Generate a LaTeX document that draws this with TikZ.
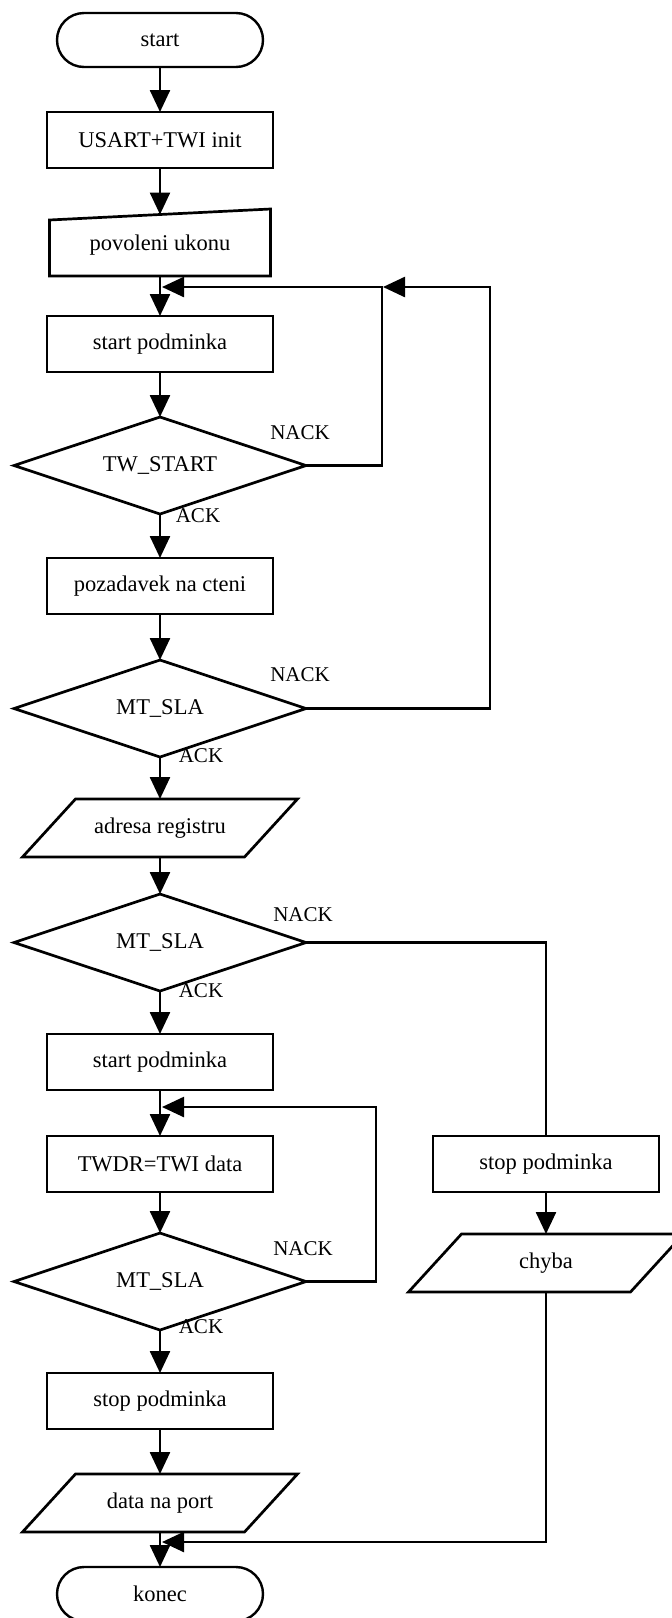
\documentclass[tikz,border=0pt]{standalone}
\usepackage{fontspec}
\setmainfont{Liberation Serif}
\usepackage{tikz}
\usetikzlibrary{arrows.meta, positioning, shapes}

\begin{document}
\begin{tikzpicture}[x=1pt, y=-1pt, >={Triangle[length=22pt,width=20pt]},
  every node/.style={font=\fontsize{22.5}{27}\selectfont, outer sep=0pt},
  box/.style={draw, line width=2.7pt, minimum width=226pt, minimum height=56pt},
  term/.style={draw, line width=2.4pt, rounded corners=27pt, minimum width=206pt, minimum height=54pt},
  dec/.style={draw, diamond, aspect=3, inner sep=0pt, line width=2.7pt, minimum width=292pt, minimum height=97pt},
  io/.style={minimum width=222pt, minimum height=58pt},
  shp/.style={line width=2.7pt, line join=miter},
  arr/.style={->, line width=2.5pt},
  lbl/.style={inner sep=0pt, font=\fontsize{21}{25}\selectfont}]
\useasboundingbox (0,0) rectangle (672,1618);

\node[term] (start) at (160,40) {start};
\node[box, below=45pt of start] (init) {USART+TWI init};
\node[io, minimum width=221pt, minimum height=61.5pt, below=46.5pt of init] (povol) {povoleni ukonu};
\node[box, below=40pt of povol] (spod1) {start podminka};
\node[dec, below=45pt of spod1] (twst) {TW\_START};
\node[box, below=44pt of twst] (pozad) {pozadavek na cteni};
\node[dec, below=46pt of pozad] (mtsla1) {MT\_SLA};
\node[io, below=42pt of mtsla1] (adr) {adresa registru};
\node[dec, below=37pt of adr] (mtsla2) {MT\_SLA};
\node[box, below=43pt of mtsla2] (spod2) {start podminka};
\node[box, below=46pt of spod2] (twdr) {TWDR=TWI data};
\node[dec, below=41pt of twdr] (mtsla3) {MT\_SLA};
\node[box, below=43pt of mtsla3] (spod3) {stop podminka};
\node[io, below=45pt of spod3] (dat) {data na port};
\node[term, below=35pt of dat] (konec) {konec};
\node[box, right=160pt of twdr] (spodr) {stop podminka};
\node[io, below=42pt of spodr] (chyba) {chyba};

% outlines of the input shapes
\draw[shp] (povol.south west) -- ([yshift=-5.5pt]povol.north west) -- ([yshift=5.5pt]povol.north east) -- (povol.south east) -- cycle;
\draw[shp] ([xshift=-26.5pt]adr.south west) -- ([xshift=26.5pt]adr.north west) -- ([xshift=26.5pt]adr.north east) -- ([xshift=-26.5pt]adr.south east) -- cycle;
\draw[shp] ([xshift=-26.5pt]dat.south west) -- ([xshift=26.5pt]dat.north west) -- ([xshift=26.5pt]dat.north east) -- ([xshift=-26.5pt]dat.south east) -- cycle;
\draw[shp] ([xshift=-26.5pt]chyba.south west) -- ([xshift=26.5pt]chyba.north west) -- ([xshift=26.5pt]chyba.north east) -- ([xshift=-26.5pt]chyba.south east) -- cycle;

\draw[arr] (start) -- (init);
\draw[arr] (init) -- (povol);
\draw[arr] (povol) -- (spod1);
\draw[arr] (spod1) -- (twst);
\draw[arr] (twst) -- (pozad);
\draw[arr] (pozad) -- (mtsla1);
\draw[arr] (mtsla1) -- (adr);
\draw[arr] (adr) -- (mtsla2);
\draw[arr] (mtsla2) -- (spod2);
\draw[arr] (spod2) -- (twdr);
\draw[arr] (twdr) -- (mtsla3);
\draw[arr] (mtsla3) -- (spod3);
\draw[arr] (spod3) -- (dat);
\draw[arr] (dat) -- (konec);
\draw[arr] (spodr) -- (chyba);

% loops back
\coordinate[below=11pt of povol] (m1);
\coordinate[below=17pt of spod2] (m2);
\coordinate[below=10pt of dat] (m3);
\draw[arr] (twst.east) -- ++(76,0) coordinate (k1) |- ([xshift=2pt]m1);
\coordinate (k1t) at (k1 |- m1);
\draw[arr] (mtsla1.east) -- ++(184,0) |- ([xshift=1pt]k1t);
\draw[line width=2.5pt] (mtsla2.east) -| (spodr.north);
\draw[arr] (mtsla3.east) -- ++(70,0) |- ([xshift=2pt]m2);
\draw[arr] (chyba.south) |- ([xshift=2pt]m3);

\node[lbl] (nack1) at ([xshift=-6pt,yshift=33pt]twst.east) {NACK};
\node[lbl] (ack1) at ([xshift=38pt,yshift=-2pt]twst.south) {ACK};
\node[lbl] (nack2) at ([xshift=-6pt,yshift=34pt]mtsla1.east) {NACK};
\node[lbl] (ack2) at ([xshift=41pt,yshift=1pt]mtsla1.south) {ACK};
\node[lbl] (nack3) at ([xshift=-3pt,yshift=28pt]mtsla2.east) {NACK};
\node[lbl] (ack3) at ([xshift=41pt,yshift=0pt]mtsla2.south) {ACK};
\node[lbl] (nack4) at ([xshift=-3pt,yshift=33pt]mtsla3.east) {NACK};
\node[lbl] (ack4) at ([xshift=41pt,yshift=3pt]mtsla3.south) {ACK};
\end{tikzpicture}
\end{document}
